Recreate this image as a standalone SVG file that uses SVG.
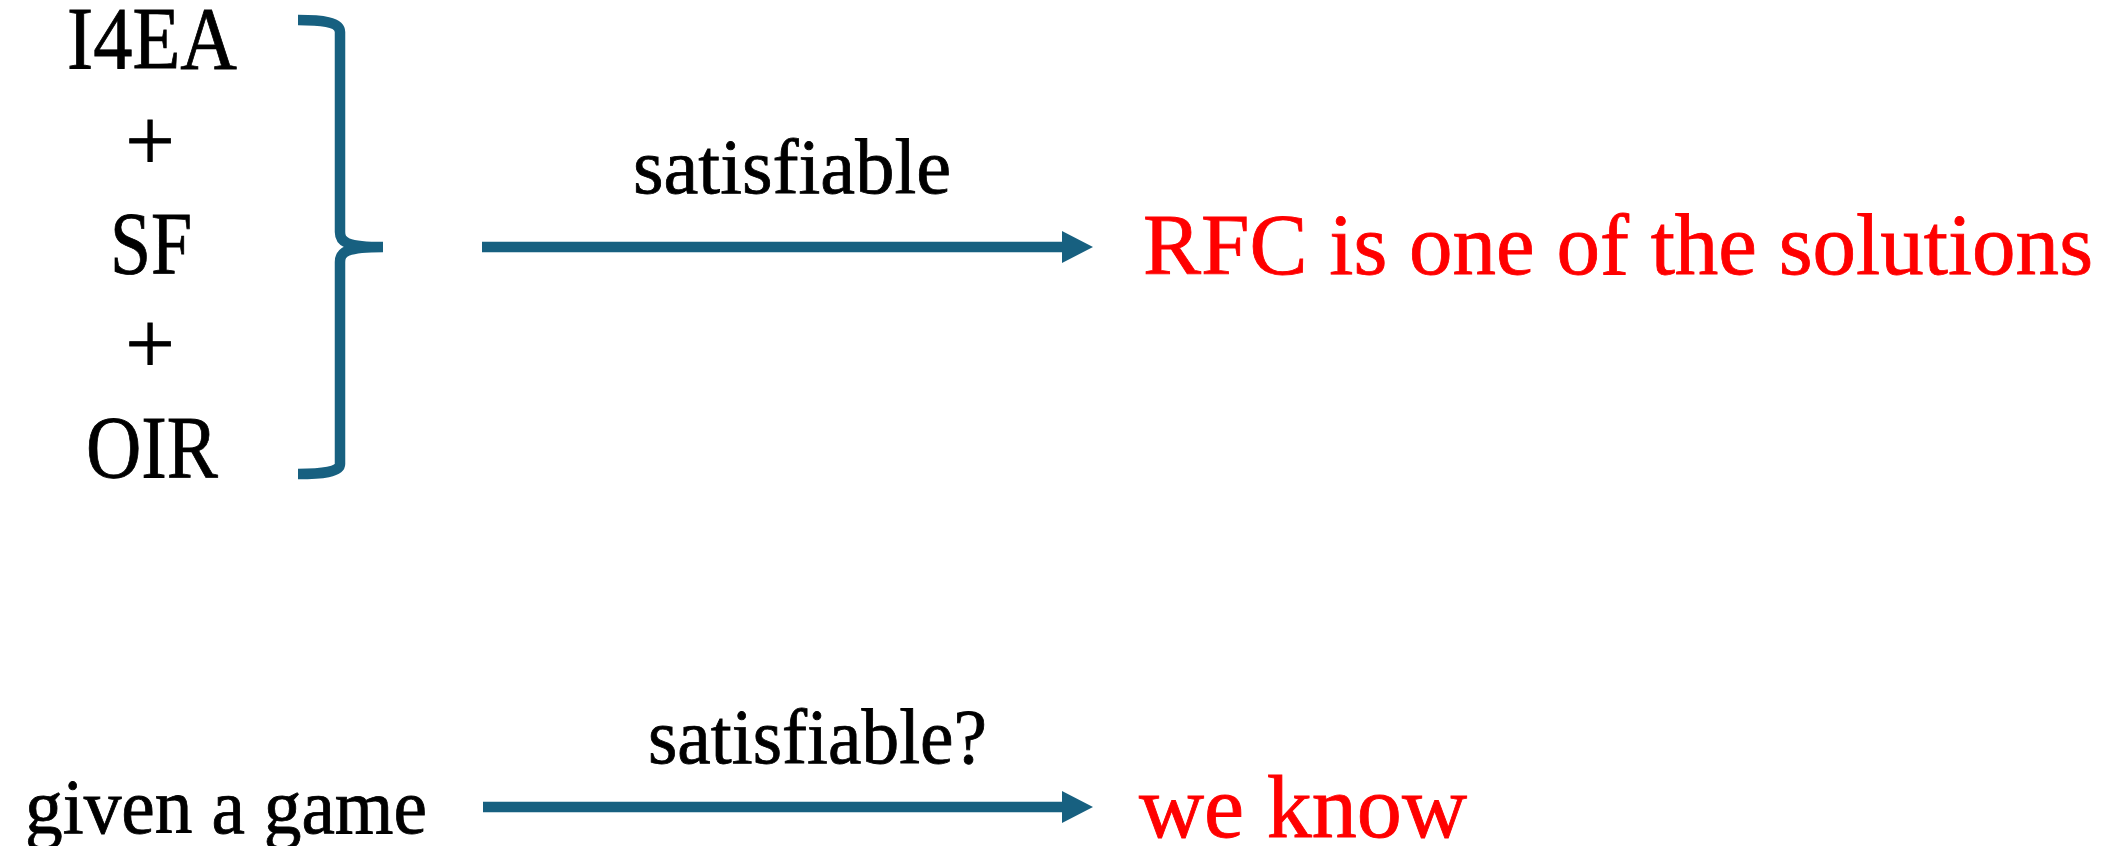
<svg xmlns="http://www.w3.org/2000/svg" width="2126" height="846" viewBox="0 0 2126 846">
  <style>
    .t { font-family: "Liberation Serif", "DejaVu Serif", serif; fill: #000000; stroke: #000000; stroke-width: 0.8px; }
    .big { font-size: 88px; }
    .lbl { font-size: 78px; }
    .red { fill: #FF0000; stroke: #FF0000; }
    .link { stroke: #176080; stroke-width: 10.5; fill: none; }
    .head { fill: #176080; }
  </style>
  <rect width="2126" height="846" fill="#FFFFFF"/>

  <!-- conditions stacked on the left -->
  <g id="conditions">
    <text class="t big" x="67" y="68" textLength="170" lengthAdjust="spacingAndGlyphs">I4EA</text>
    <text class="t big" x="150" y="170" text-anchor="middle">+</text>
    <text class="t big" x="110" y="273" textLength="82" lengthAdjust="spacingAndGlyphs">SF</text>
    <text class="t big" x="150" y="373" text-anchor="middle">+</text>
    <text class="t big" x="86" y="477" textLength="132" lengthAdjust="spacingAndGlyphs">OIR</text>
  </g>

  <!-- right curly brace grouping the conditions -->
  <g id="brace">
    <path class="link" stroke-width="10" d="M298,20 C322,20 340,22 340,32 L340,232 C340,242 346,247 383,247 C346,247 340,252 340,262 L340,464 C340,472 322,474 298,474"/>
  </g>

  <g id="result-top">
    <text class="t red" font-size="87" x="1143" y="274" textLength="950" lengthAdjust="spacingAndGlyphs">RFC is one of the solutions</text>
  </g>

  <g id="game">
    <text class="t lbl" x="25" y="833" textLength="402" lengthAdjust="spacingAndGlyphs">given a game</text>
  </g>

  <g id="result-bottom">
    <text class="t big red" x="1139" y="837" textLength="328" lengthAdjust="spacingAndGlyphs">we know</text>
  </g>

  <!-- connectors -->
  <g id="connectors">
    <g id="edge-top">
      <line class="link" x1="482" y1="247" x2="1064" y2="247"/>
      <polygon class="head" points="1062,231 1093,247 1062,263"/>
      <text class="t lbl" x="633" y="193" textLength="318" lengthAdjust="spacingAndGlyphs">satisfiable</text>
    </g>
    <g id="edge-bottom">
      <line class="link" x1="483" y1="807" x2="1064" y2="807"/>
      <polygon class="head" points="1062,791 1093,807 1062,823"/>
      <text class="t lbl" x="648" y="763" textLength="339" lengthAdjust="spacingAndGlyphs">satisfiable?</text>
    </g>
  </g>
</svg>
